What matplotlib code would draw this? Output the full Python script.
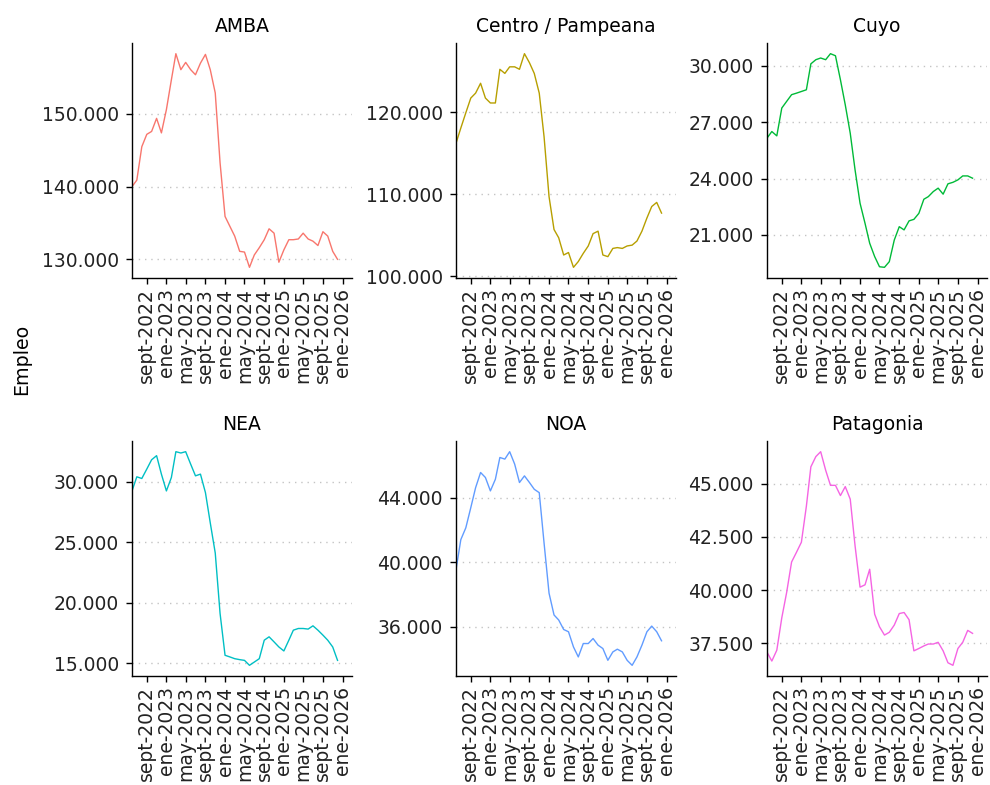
import matplotlib

matplotlib.use("Agg")
import matplotlib.pyplot as plt
import numpy as np
import pandas as pd
from matplotlib.ticker import FuncFormatter, MultipleLocator

# monthly series, jun-2022 .. dic-2025
months = pd.date_range("2022-06-01", periods=43, freq="MS")

regions = ["AMBA", "Centro / Pampeana", "Cuyo", "NEA", "NOA", "Patagonia"]

amba = [140000, 140900, 145500, 147200, 147600, 149400, 147400, 150600, 154700, 158300,
        156100, 157100, 156100, 155400, 157000, 158200, 156100, 152900, 143300, 135900,
        134500, 133200, 131100, 131000, 128900, 130600, 131600, 132700, 134200, 133600,
        129600, 131300, 132700, 132700, 132800, 133600, 132800, 132500, 131900, 133800,
        133200, 131100, 130000]
centro = [116200, 118050, 119900, 121700, 122300, 123500, 121700, 121100, 121100, 125200,
          124700, 125500, 125500, 125200, 127100, 126000, 124700, 122300, 117000, 109700,
          105700, 104700, 102600, 102900, 101100, 101800, 102800, 103700, 105200, 105500,
          102600, 102400, 103400, 103500, 103400, 103700, 103800, 104300, 105500, 107100,
          108500, 109000, 107700]
cuyo = [26150, 26500, 26270, 27750, 28100, 28460, 28540, 28630, 28720, 30100,
        30320, 30410, 30320, 30640, 30530, 29250, 27920, 26410, 24460, 22690,
        21620, 20560, 19850, 19310, 19280, 19580, 20730, 21440, 21270, 21750,
        21830, 22150, 22900, 23040, 23310, 23490, 23170, 23720, 23800, 23930,
        24140, 24140, 24020]
nea = [29250, 30420, 30280, 31060, 31830, 32170, 30640, 29250, 30360, 32500,
       32390, 32500, 31470, 30500, 30640, 29110, 26610, 24110, 19110, 15640,
       15500, 15360, 15280, 15220, 14810, 15080, 15360, 16890, 17170, 16750,
       16330, 16000, 16890, 17720, 17860, 17860, 17810, 18080, 17720, 17310,
       16890, 16330, 15220]
noa = [39530, 41400, 42130, 43380, 44620, 45560, 45250, 44420, 45140, 46490,
       46390, 46850, 46080, 44940, 45350, 44940, 44520, 44310, 41190, 38080,
       36730, 36420, 35830, 35690, 34750, 34130, 34960, 34960, 35270, 34860,
       34650, 33920, 34440, 34610, 34440, 33920, 33610, 34130, 34860, 35690,
       36040, 35690, 35130]
patagonia = [37090, 36670, 37180, 38700, 39880, 41320, 41770, 42250, 43940, 45790,
             46270, 46500, 45630, 44920, 44920, 44440, 44860, 44270, 42080, 40140,
             40250, 40980, 38870, 38280, 37890, 38020, 38360, 38900, 38950, 38610,
             37150, 37260, 37380, 37470, 37470, 37550, 37150, 36590, 36470, 37260,
             37550, 38110, 37970]

series = [amba, centro, cuyo, nea, noa, patagonia]
y_steps = [10000, 10000, 3000, 5000, 4000, 2500]
colors = ["#F8766D", "#B79F00", "#00BA38", "#00BFC4", "#619CFF", "#F564E3"]

tick_dates = pd.date_range("2022-09-01", "2026-01-01", freq="4MS")
tick_labels = ["sept-2022", "ene-2023", "may-2023", "sept-2023", "ene-2024", "may-2024",
               "sept-2024", "ene-2025", "may-2025", "sept-2025", "ene-2026"]

W, H = 990, 785
col_left = [132, 456, 767]
row_top = [43, 441]
panel_w, panel_h = 220, 235

thousands = FuncFormatter(lambda v, _: f"{int(round(v)):,}".replace(",", "."))

fig = plt.figure(figsize=(W / 100, H / 100), dpi=100)
fig.patch.set_facecolor("white")

for i, (name, values) in enumerate(zip(regions, series)):
    r, c = divmod(i, 3)
    rect = [col_left[c] / W, 1 - (row_top[r] + panel_h) / H, panel_w / W, panel_h / H]
    ax = fig.add_axes(rect)
    ax.plot(months, values, color=colors[i], lw=1.0)
    ax.set_xlim(months[0], pd.Timestamp("2026-03-01"))
    ax.margins(y=0.05)
    ax.yaxis.set_major_locator(MultipleLocator(y_steps[i]))
    ax.yaxis.set_major_formatter(thousands)
    ax.set_xticks(tick_dates)
    ax.set_xticklabels(tick_labels, rotation=90, ha="center", va="top")
    ax.yaxis.grid(True, linestyle=(0, (1, 3.5)), color="#C4C4C4", lw=1.0)
    ax.set_axisbelow(True)
    for side in ["top", "right"]:
        ax.spines[side].set_visible(False)
    for side in ["left", "bottom"]:
        ax.spines[side].set_color("black")
        ax.spines[side].set_linewidth(1.0)
    ax.tick_params(axis="both", length=4.5, width=1.0, color="black",
                   labelsize=13.5, labelcolor="#222222", pad=3)
    ax.tick_params(axis="y", pad=5)
    ax.set_title(name, fontsize=13.5, color="black", pad=8)

fig.text(22 / W, 1 - 359 / H, "Empleo", rotation=90, ha="center", va="center",
         fontsize=13.7, color="black")

fig.savefig("out.png", dpi=100)
